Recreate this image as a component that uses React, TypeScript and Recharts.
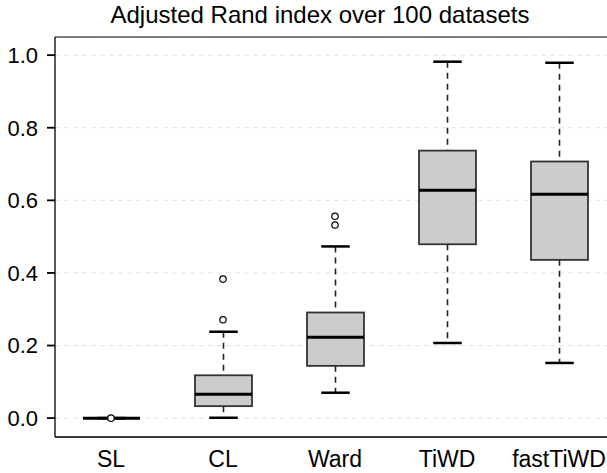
import React from 'react';
import { ComposedChart, Bar, Line, XAxis, YAxis, CartesianGrid, ReferenceLine } from 'recharts';

const categories = ['SL', 'CL', 'Ward', 'TiWD', 'fastTiWD'];
const whiskerLow = [0, 0.001, 0.07, 0.207, 0.152];
const q1 = [0, 0.033, 0.144, 0.479, 0.436];
const median = [0, 0.066, 0.223, 0.628, 0.617];
const q3 = [0, 0.118, 0.291, 0.737, 0.707];
const whiskerHigh = [0, 0.238, 0.473, 0.982, 0.979];
const outlierA: (number | null)[] = [0, 0.271, 0.532, null, null];
const outlierB: (number | null)[] = [null, 0.383, 0.556, null, null];
const yTicks = [0, 0.2, 0.4, 0.6, 0.8, 1.0];
const yDomain: [number, number] = [-0.052, 1.05];
const title = 'Adjusted Rand index over 100 datasets';

const data = categories.map((name, i) => ({
  name,
  lo: whiskerLow[i],
  q1: q1[i],
  med: median[i],
  q3: q3[i],
  hi: whiskerHigh[i],
  o1: outlierA[i],
  o2: outlierB[i],
}));

const FONT = '"Liberation Sans", Arial, Helvetica, sans-serif';

const BoxShape = (props: any) => {
  const { x, y, width, height, payload } = props;
  const top = Math.min(y, y + height);
  const h = Math.abs(height);
  const lo = payload.lo;
  const hi = payload.hi;
  const py = (v: number) => (h === 0 || hi === lo ? top : top + (h * (hi - v)) / (hi - lo));
  const cx = x + width / 2;
  const capW = width / 2;
  const yHi = py(hi);
  const yLo = py(lo);
  const yQ1 = py(payload.q1);
  const yQ3 = py(payload.q3);
  const yMed = py(payload.med);
  return (
    <g>
      <line x1={cx} x2={cx} y1={yHi} y2={yQ3} stroke="#222" strokeWidth={1.6} strokeDasharray="6 5" />
      <line x1={cx} x2={cx} y1={yQ1} y2={yLo} stroke="#222" strokeWidth={1.6} strokeDasharray="6 5" />
      <line x1={cx - capW / 2} x2={cx + capW / 2} y1={yHi} y2={yHi} stroke="#000" strokeWidth={2.5} />
      <line x1={cx - capW / 2} x2={cx + capW / 2} y1={yLo} y2={yLo} stroke="#000" strokeWidth={2.5} />
      <rect x={x} y={yQ3} width={width} height={Math.max(0, yQ1 - yQ3)} fill="#cccccc" stroke="#333" strokeWidth={1.8} />
      <line x1={x} x2={x + width} y1={yMed} y2={yMed} stroke="#000" strokeWidth={3} />
    </g>
  );
};

const OutlierDot = (props: any) => {
  const { cx, cy, index } = props;
  if (typeof cy !== 'number' || isNaN(cy)) return <g key={index} />;
  return <circle key={index} cx={cx} cy={cy} r={3.2} fill="#fff" stroke="#000" strokeWidth={1.2} />;
};

export default function App() {
  return (
    <div style={{ position: 'absolute', left: 0, top: 0, width: 607, height: 473, overflow: 'hidden', background: '#fff' }}>
      <ComposedChart
        width={640}
        height={473}
        data={data}
        margin={{ top: 37, right: 25, bottom: 0, left: 0 }}
        style={{ fontFamily: FONT }}
      >
        <text x={320} y={23} textAnchor="middle" fontSize={24} fill="#000" fontFamily={FONT}>
          {title}
        </text>
        <CartesianGrid vertical={false} stroke="#e2e2e2" strokeDasharray="5 4" />
        <XAxis
          dataKey="name"
          height={36}
          tickSize={0}
          tickLine={false}
          tickMargin={14}
          axisLine={{ stroke: '#000', strokeWidth: 1.3 }}
          tick={{ fill: '#000', fontSize: 23, fontFamily: FONT }}
          interval={0}
        />
        <YAxis
          width={55}
          domain={yDomain}
          ticks={yTicks}
          allowDataOverflow
          tickFormatter={(v: number) => v.toFixed(1)}
          tickSize={8}
          tickMargin={9}
          axisLine={{ stroke: '#000', strokeWidth: 1.3 }}
          tickLine={{ stroke: '#000', strokeWidth: 1.8 }}
          tick={{ fill: '#000', fontSize: 22, fontFamily: FONT }}
        />
        <ReferenceLine y={yDomain[1]} stroke="#555" strokeWidth={1.5} ifOverflow="visible" />
        <Bar
          dataKey={(d: any) => [d.lo, d.hi]}
          barSize={57}
          shape={BoxShape}
          isAnimationActive={false}
        />
        <Line dataKey="o1" stroke="none" dot={OutlierDot} activeDot={false} isAnimationActive={false} />
        <Line dataKey="o2" stroke="none" dot={OutlierDot} activeDot={false} isAnimationActive={false} />
      </ComposedChart>
    </div>
  );
}
